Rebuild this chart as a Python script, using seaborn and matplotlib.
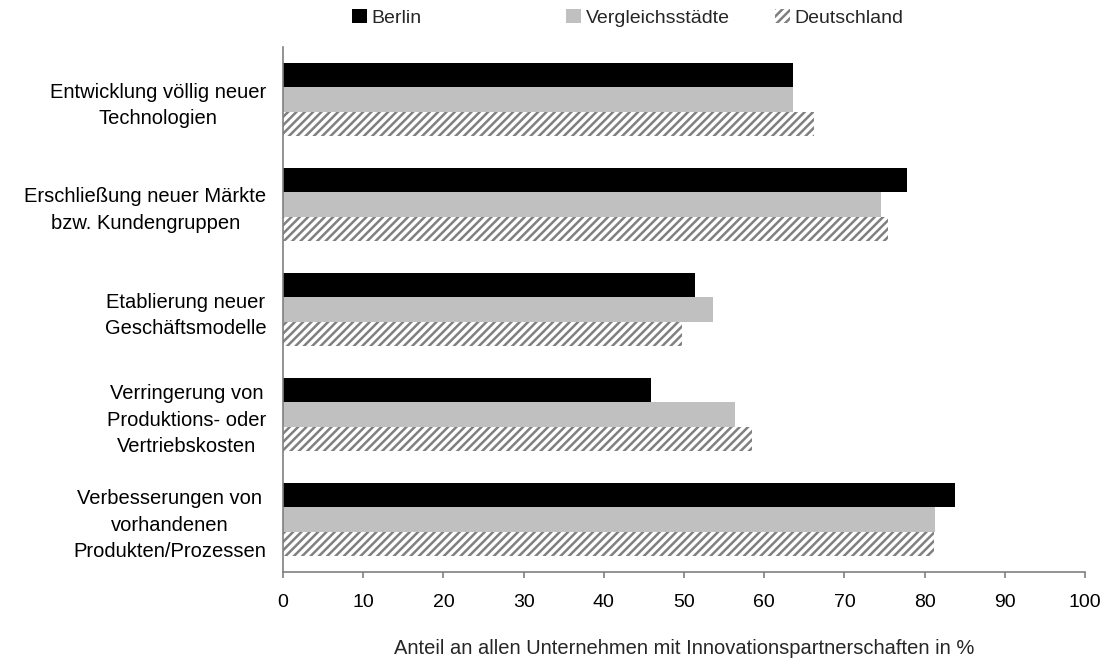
import matplotlib
matplotlib.use("Agg")
import matplotlib.pyplot as plt
import matplotlib.patches as mpatches
import seaborn as sns
import pandas as pd

categories = [
    "Entwicklung völlig neuer\nTechnologien",
    "Erschließung neuer Märkte\nbzw. Kundengruppen",
    "Etablierung neuer\nGeschäftsmodelle",
    "Verringerung von\nProduktions- oder\nVertriebskosten",
    "Verbesserungen von\nvorhandenen\nProdukten/Prozessen",
]
series = ["Berlin", "Vergleichsstädte", "Deutschland"]
berlin = [63.6, 77.8, 51.4, 45.9, 83.8]
vergleich = [63.6, 74.6, 53.6, 56.4, 81.3]
deutschland = [66.2, 75.4, 49.7, 58.5, 81.2]
xticks = [0, 10, 20, 30, 40, 50, 60, 70, 80, 90, 100]
xlabel = "Anteil an allen Unternehmen mit Innovationspartnerschaften in %"

sns.set_theme(style="white")
plt.rcParams["font.family"] = ["Liberation Sans", "DejaVu Sans"]
plt.rcParams["hatch.linewidth"] = 1.8
plt.rcParams["hatch.color"] = "#808080"

FS = 14

rows = []
for s, vals in zip(series, [berlin, vergleich, deutschland]):
    for c, v in zip(categories, vals):
        rows.append({"cat": c, "series": s, "value": v})
df = pd.DataFrame(rows)

colors = {"Berlin": "#000000", "Vergleichsstädte": "#c0c0c0", "Deutschland": "#ffffff"}

fig = plt.figure(figsize=(11.11, 6.63), dpi=100)
ax = fig.add_axes([283 / 1111, 1 - 572 / 663, (1085 - 283) / 1111, (572 - 47) / 663])

sns.barplot(data=df, x="value", y="cat", hue="series", order=categories,
            hue_order=series, palette=colors, orient="h", width=0.69,
            gap=0, ax=ax, legend=False, linewidth=0, saturation=1)

# hatch for Deutschland bars
for patch in ax.containers[2]:
    patch.set_hatch("////")
    patch.set_edgecolor("#808080")
    patch.set_linewidth(0)

ax.set_xlim(0, 100)
ax.set_ylim(4.5, -0.5)
ax.set_xticks(xticks)
ax.set_xticklabels([str(t) for t in xticks])
ax.set_xlabel(xlabel, fontsize=FS + 0.5, labelpad=20)
ax.set_ylabel("")

for sp in ["top", "right"]:
    ax.spines[sp].set_visible(False)
for sp in ["left", "bottom"]:
    ax.spines[sp].set_color("#808080")
    ax.spines[sp].set_linewidth(1.2)

ax.tick_params(axis="x", bottom=True, length=4, width=1.2, color="#808080",
               labelsize=FS, pad=12, labelcolor="black")
ax.tick_params(axis="y", left=False, length=0, labelsize=FS + 0.5, pad=12, labelcolor="black")
for lab in ax.get_yticklabels():
    lab.set_multialignment("center")
    lab.set_linespacing(1.48)

handles = [
    mpatches.Patch(facecolor="#000000", edgecolor="none", label="Berlin"),
    mpatches.Patch(facecolor="#c0c0c0", edgecolor="none", label="Vergleichsstädte"),
    mpatches.Patch(facecolor="#ffffff", edgecolor="#808080", hatch="////", linewidth=0, label="Deutschland"),
]
xs = [352 / 1111, 566 / 1111, 775 / 1111]
for h, x in zip(handles, xs):
    fig.legend(handles=[h], loc="center left", bbox_to_anchor=(x, 1 - 18 / 663),
               frameon=False, fontsize=FS, handlelength=0.75, handleheight=0.75,
               handletextpad=0.25, borderpad=0, borderaxespad=0)

fig.savefig("out.png", dpi=100)
